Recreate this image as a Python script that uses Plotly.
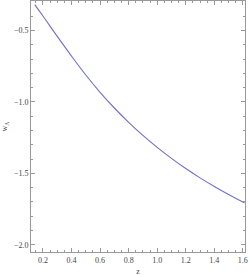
import plotly.graph_objects as go

# Values
z_values = [0.142, 0.2, 0.3, 0.4, 0.5, 0.6, 0.7, 0.8, 0.9, 1.0, 1.1, 1.2, 1.3, 1.4, 1.5, 1.6, 1.612]
w_values = [-0.319, -0.399, -0.542, -0.680, -0.812, -0.933, -1.043, -1.143, -1.235,
            -1.319, -1.396, -1.467, -1.532, -1.592, -1.648, -1.701, -1.707]
x_ticks = [0.2, 0.4, 0.6, 0.8, 1.0, 1.2, 1.4, 1.6]
y_ticks = [-0.5, -1.0, -1.5, -2.0]

font_family = "Liberation Serif, Times New Roman, serif"
frame_color = "#999999"

fig = go.Figure()
fig.add_trace(go.Scatter(
    x=z_values, y=w_values, mode="lines",
    line=dict(color="#6f6fcc", width=1.1, shape="spline"),
    showlegend=False, hoverinfo="skip",
))

axis_common = dict(
    showline=True, linecolor=frame_color, linewidth=1,
    mirror="allticks", ticks="inside", ticklen=4, tickwidth=1, tickcolor=frame_color,
    showgrid=False, zeroline=False,
    tickfont=dict(family=font_family, size=8, color="#444444"),
)

fig.update_xaxes(
    range=[0.116, 1.615], tickvals=x_ticks, tickformat=".1f",
    minor=dict(dtick=0.05, tick0=0, ticks="inside", ticklen=2, tickcolor=frame_color, showgrid=False),
    title=dict(text="z", font=dict(family=font_family, size=8, color="#444444"), standoff=4),
    **axis_common,
)
fig.update_yaxes(
    range=[-2.051, -0.294], tickvals=y_ticks, tickformat=".1f",
    minor=dict(dtick=0.1, tick0=0, ticks="inside", ticklen=2, tickcolor=frame_color, showgrid=False),
    title=dict(text="w<sub>Λ</sub>", font=dict(family=font_family, size=8, color="#444444"), standoff=6),
    **axis_common,
)

fig.update_layout(
    width=249, height=277,
    margin=dict(l=31, r=4, t=1, b=25),
    plot_bgcolor="white", paper_bgcolor="white",
)

fig.write_html(
    "out.html",
    config={"displayModeBar": False},
    post_script="document.body.style.margin='0';document.body.style.padding='0';document.body.style.overflow='hidden';",
)
